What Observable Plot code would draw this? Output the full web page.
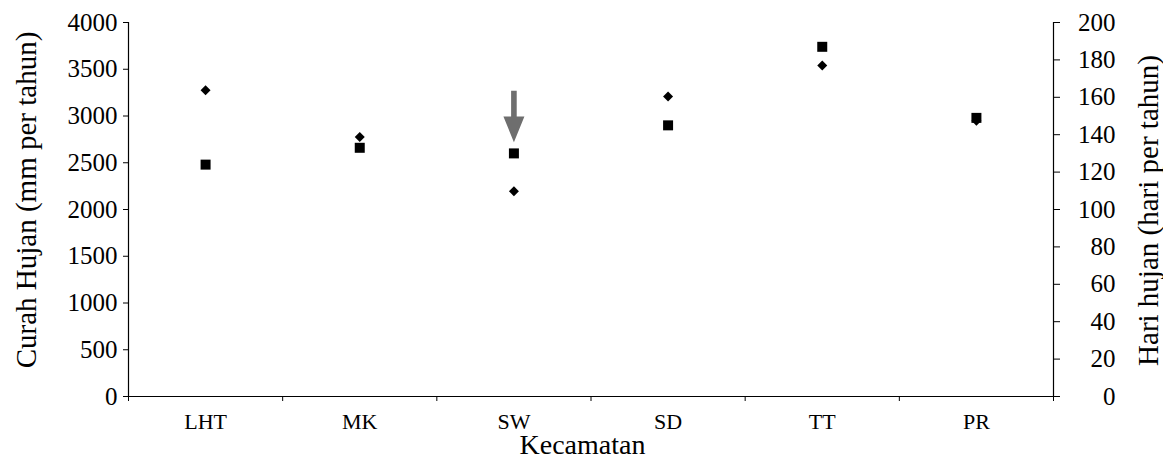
<!DOCTYPE html>
<html>
<head>
<meta charset="utf-8">
<script src="https://cdn.jsdelivr.net/npm/d3@7"></script>
<script src="https://cdn.jsdelivr.net/npm/@observablehq/plot@0.6"></script>
<style>
  html, body { margin: 0; padding: 0; background: #fff; }
  svg, svg text { font-family: "Liberation Serif", "Times New Roman", serif !important; }
</style>
</head>
<body>
<div id="chart"></div>
<script>
// ---- data ----
const kecamatan = ["LHT", "MK", "SW", "SD", "TT", "PR"];
const curahHujan = [3276, 2775, 2196, 3209, 3541, 2950];   // mm per tahun (left axis, diamonds)
const hariHujan = [124, 133, 130, 145, 187, 149];          // hari per tahun (right axis, squares)
const leftTicks = [0, 500, 1000, 1500, 2000, 2500, 3000, 3500, 4000];
const rightTicks = [0, 20, 40, 60, 80, 100, 120, 140, 160, 180, 200];
const arrowTarget = "SW";
const arrowFrom = 3270;   // in mm units
const arrowTo = 2720;

const leftTitle = "Curah Hujan (mm per tahun)";
const rightTitle = "Hari hujan (hari per tahun)";
const xTitle = "Kecamatan";

// ---- layout ----
const W = 1163, H = 459;
const mTop = 22, mBottom = 63, mLeft = 128, mRight = 110;
const yMax = leftTicks[leftTicks.length - 1];
const ratio = yMax / rightTicks[rightTicks.length - 1];
const FONT = "Liberation Serif";

const rows = kecamatan.map((k, i) => ({i, k, ch: curahHujan[i], hh: hariHujan[i] * ratio}));
const boundaries = d3.range(kecamatan.length + 1).map(i => i - 0.5);

const pxPerUnit = (H - mTop - mBottom) / yMax;
const arrowLen = (arrowFrom - arrowTo) * pxPerUnit;
const headLen = 25.7, headHalf = 10.5, shaftHalf = 2.8;
const arrowShape = {
  draw(context, l) {
    const hb = -(l - headLen);
    context.moveTo(-shaftHalf, 0);
    context.lineTo(-shaftHalf, hb);
    context.lineTo(-headHalf, hb);
    context.lineTo(0, -l);
    context.lineTo(headHalf, hb);
    context.lineTo(shaftHalf, hb);
    context.lineTo(shaftHalf, 0);
    context.closePath();
  }
};

const chart = Plot.plot({
  width: W,
  height: H,
  marginTop: mTop,
  marginBottom: mBottom,
  marginLeft: mLeft,
  marginRight: mRight,
  style: {fontFamily: FONT, background: "#fff", color: "#000", fontSize: "24px"},
  x: {domain: [-0.5, kecamatan.length - 0.5]},
  y: {domain: [0, yMax]},
  marks: [
    // axis lines
    Plot.ruleY([0], {stroke: "#000", strokeWidth: 1.2}),
    Plot.ruleX([boundaries[0], boundaries[boundaries.length - 1]], {stroke: "#000", strokeWidth: 1.2}),
    // left axis
    Plot.axisY({anchor: "left", ticks: leftTicks, tickSize: 5, tickPadding: 6, fontSize: 25, fontFamily: FONT, label: null, tickFormat: d => String(d)}),
    // right axis
    Plot.axisY({anchor: "right", ticks: rightTicks.map(d => d * ratio), tickFormat: d => String(d / ratio), tickSize: 6, tickPadding: 56, textAnchor: "end", fontSize: 25, fontFamily: FONT, label: null}),
    // x boundary ticks
    Plot.axisX({ticks: boundaries, tickSize: 5, tickFormat: () => "", label: null}),
    // x category labels
    Plot.axisX({ticks: d3.range(kecamatan.length), tickFormat: i => kecamatan[i], tickSize: 0, tickPadding: 17, fontSize: 22, fontFamily: FONT, label: null}),
    // titles
    Plot.text([leftTitle], {frameAnchor: "left", textAnchor: "middle", lineAnchor: "middle", rotate: -90, dx: 26 - mLeft, dy: -9.5, fontSize: 29, fontFamily: FONT, fill: "#000"}),
    Plot.text([rightTitle], {frameAnchor: "right", textAnchor: "middle", lineAnchor: "middle", rotate: -90, dx: 95, dy: 1, fontSize: 29, fontFamily: FONT, fill: "#000"}),
    Plot.text([xTitle], {frameAnchor: "bottom", textAnchor: "middle", lineAnchor: "middle", dx: -8.5, dy: 49, fontSize: 28, fontFamily: FONT, fill: "#000"}),
    // data
    Plot.dot(rows, {x: "i", y: "hh", symbol: "square", r: 5.64, fill: "#000", stroke: "none"}),
    Plot.dot(rows, {x: "i", y: "ch", symbol: "diamond2", r: 4.5, fill: "#000", stroke: "none"}),
    // arrow annotation
    Plot.vector([{k: arrowTarget, y: arrowFrom}], {
      x: d => kecamatan.indexOf(d.k), y: "y",
      length: arrowLen, rotate: 180, anchor: "start",
      shape: arrowShape, fill: "#6e6e6e", stroke: "none"
    })
  ]
});

document.getElementById("chart").appendChild(chart);
</script>
</body>
</html>
